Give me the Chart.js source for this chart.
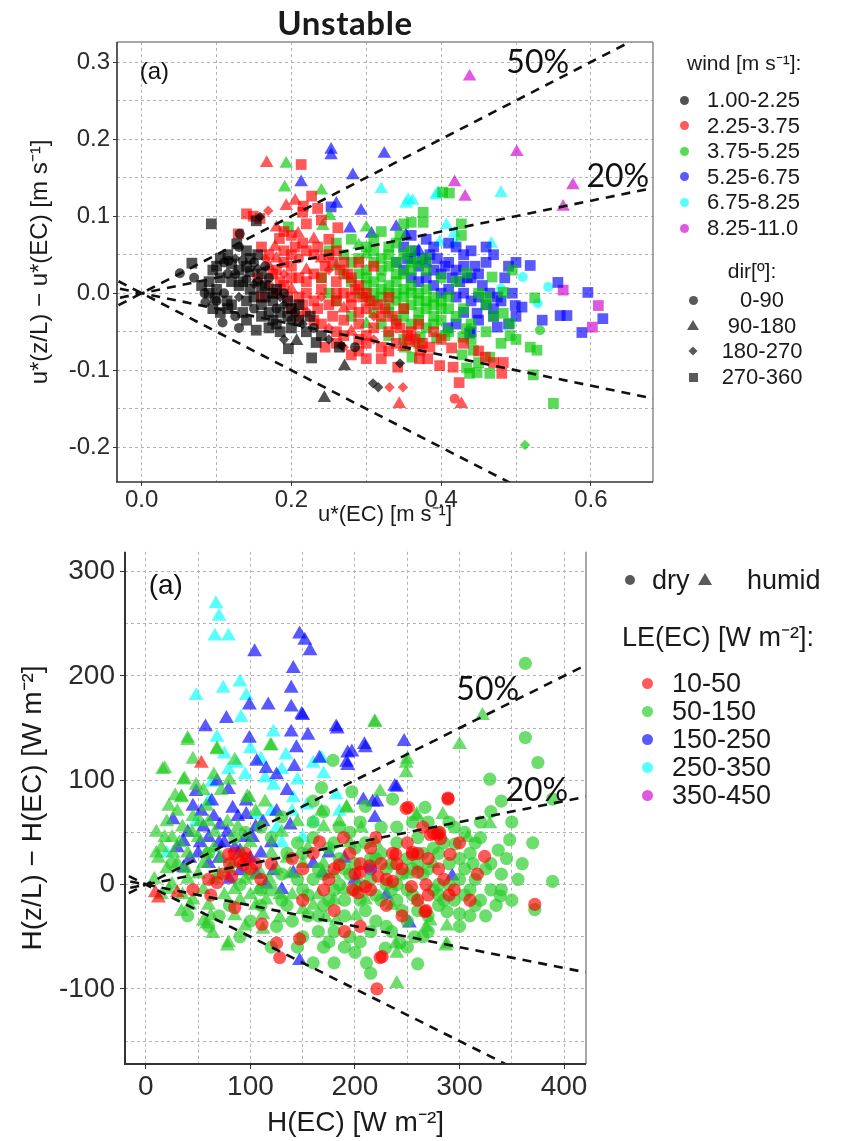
<!DOCTYPE html>
<html><head><meta charset="utf-8">
<script src="https://cdn.jsdelivr.net/npm/chart.js@4.4.1/dist/chart.umd.min.js"></script>
<style>
body{margin:0;width:845px;height:1141px;position:relative;background:#fff;overflow:hidden;font-family:"Liberation Sans",Arial,sans-serif;color:#1a1a1a}
canvas{position:absolute;left:0}
.t{position:absolute;white-space:nowrap;line-height:1}
.m{position:absolute}
</style></head><body>
<canvas id="c1" width="845" height="530" style="top:0"></canvas>
<canvas id="c2" width="845" height="611" style="top:530px"></canvas>
<div id="html"></div>
<script>
// ---------- TOP PANEL DATA : [u*(EC), u*(z/L)-u*(EC), dirClass] ----------
const windBins = ['1.00-2.25','2.25-3.75','3.75-5.25','5.25-6.75','6.75-8.25','8.25-11.0'];
const dirBins = ['0-90','90-180','180-270','270-360'];
const w1 = [[0.093,0.090,3],[0.067,0.039,3],[0.051,0.026,0],[0.084,0.000,0],[0.098,-0.006,3],[0.114,-0.010,3],[0.108,-0.038,0],[0.153,-0.048,3],[0.196,-0.072,3],[0.233,-0.064,3],[0.227,-0.084,3],[0.264,-0.070,3],[0.309,-0.117,2],[0.316,-0.122,2],[0.271,-0.095,1],[0.244,-0.136,1],[0.207,-0.062,1],[0.345,-0.091,2],[0.267,-0.068,2],[0.285,-0.070,0],[0.153,0.094,3],[0.158,0.099,2],[0.131,0.077,0],[0.127,0.064,3],[0.116,0.042,0],
[0.100,0.035,3],[0.110,0.040,0],[0.120,0.038,3],[0.125,0.045,2],[0.130,0.030,3],[0.135,0.042,0],[0.140,0.035,3],[0.145,0.028,3],[0.150,0.040,0],[0.155,0.032,2],[0.160,0.025,3],[0.105,0.020,3],[0.115,0.025,0],[0.120,0.015,3],[0.130,0.010,3],[0.140,0.018,0],[0.145,0.005,3],[0.150,0.012,2],[0.160,0.008,3],[0.170,0.020,0],[0.165,-0.005,3],[0.175,-0.010,3],[0.180,-0.020,0],[0.185,-0.025,3],[0.190,-0.015,2],[0.195,-0.030,3],[0.200,-0.020,3],[0.205,-0.025,0],[0.170,-0.025,3],[0.160,-0.030,3],[0.150,-0.020,0],[0.140,-0.010,3],[0.130,-0.005,2],[0.120,-0.015,3],[0.110,0.000,0],[0.100,0.005,3],[0.090,0.015,3],[0.085,-0.012,0],[0.095,-0.020,3],[0.105,-0.025,3],[0.125,-0.030,0],[0.135,-0.025,3],[0.180,0.005,3],[0.190,0.000,0],[0.210,-0.035,3],[0.215,-0.040,2],[0.175,-0.035,3],[0.165,0.035,0],[0.155,0.050,3],[0.140,0.055,3],[0.130,0.060,0],[0.200,-0.045,3],[0.185,-0.050,3],[0.190,-0.060,2],[0.220,-0.050,3],
[0.105,0.045,3],[0.115,0.050,3],[0.125,0.025,0],[0.135,0.015,3],[0.145,0.045,3],[0.155,0.015,0],[0.165,0.010,3],[0.175,0.000,3],[0.185,-0.005,2],[0.195,-0.010,3],[0.200,-0.035,0],[0.180,-0.040,3],[0.170,-0.045,3],[0.160,-0.015,3],[0.150,-0.005,3],[0.140,-0.035,3],[0.130,-0.045,0],[0.115,-0.020,3],[0.100,-0.010,0],[0.090,0.000,3],[0.080,0.010,3],[0.070,0.020,0],[0.095,0.030,3],[0.210,-0.015,3],[0.225,-0.030,3],[0.230,-0.045,0],[0.240,-0.055,3],[0.250,-0.060,2]];
const w2 = [[0.167,0.169,1],[0.213,0.167,3],[0.227,0.126,3],[0.216,0.113,3],[0.193,0.113,1],[0.262,0.085,3],[0.140,0.103,3],[0.149,0.100,3],[0.169,0.107,2],[0.158,0.097,3],[0.178,0.060,1],[0.209,0.077,1],[0.184,0.071,3],[0.129,0.077,3],
[0.331,-0.122,2],[0.349,-0.122,2],[0.344,-0.144,1],[0.342,-0.096,3],[0.371,-0.085,3],[0.398,-0.094,3],[0.416,-0.096,3],[0.424,-0.116,3],[0.418,-0.137,0],[0.427,-0.144,1],[0.459,-0.083,3],[0.481,-0.104,3],[0.483,-0.090,3],[0.414,-0.071,3],[0.382,-0.085,3],[0.372,-0.074,3],[0.358,-0.063,3],
[0.16,0.06,3],[0.17,0.05,3],[0.18,0.045,1],[0.19,0.055,3],[0.2,0.05,3],[0.21,0.045,0],[0.22,0.055,3],[0.23,0.05,3],[0.24,0.045,1],[0.25,0.05,3],[0.26,0.055,3],[0.27,0.04,3],[0.18,0.03,3],[0.19,0.025,2],[0.2,0.035,3],[0.21,0.02,3],[0.22,0.03,1],[0.23,0.025,3],[0.24,0.02,3],[0.25,0.03,2],[0.26,0.015,3],[0.28,0.02,3],[0.29,0.01,3],[0.17,0.01,0],[0.18,0.0,3],[0.19,0.01,3],[0.2,0.005,1],[0.21,-0.005,3],[0.22,0.0,3],[0.23,-0.01,3],[0.24,-0.005,2],[0.25,-0.015,3],[0.26,-0.01,3],[0.27,-0.02,1],[0.28,-0.015,3],[0.29,-0.025,3],[0.3,-0.02,3],[0.31,-0.03,2],[0.2,-0.02,3],[0.21,-0.03,3],[0.22,-0.025,0],[0.23,-0.035,3],[0.24,-0.04,3],[0.25,-0.045,2],[0.26,-0.05,3],[0.27,-0.055,3],[0.28,-0.05,1],[0.29,-0.06,3],[0.3,-0.065,3],[0.31,-0.06,2],[0.32,-0.07,3],[0.33,-0.075,3],[0.34,-0.065,3],[0.35,-0.07,1],[0.28,-0.08,3],[0.3,-0.085,3],[0.27,-0.07,2],[0.33,-0.05,3],[0.34,-0.04,3],[0.36,-0.05,3],[0.32,-0.03,3],[0.3,0.0,3],[0.27,0.0,3],[0.17,0.035,1],[0.155,0.02,3],[0.16,-0.005,3],[0.165,0.045,2],[0.18,0.085,1],[0.19,0.08,3],[0.2,0.075,3],[0.22,0.09,3],[0.24,0.095,3],[0.25,0.07,3],[0.23,0.07,1],[0.29,0.04,3],[0.31,0.035,3],[0.33,-0.005,3],[0.35,-0.02,3],[0.37,-0.04,3],[0.39,-0.05,3],[0.4,-0.06,3],[0.43,-0.065,3],[0.45,-0.075,3],[0.47,-0.09,3],
[0.19,0.04,3],[0.205,0.06,3],[0.215,0.065,3],[0.235,0.06,3],[0.245,0.035,3],[0.255,0.04,3],[0.265,0.03,3],[0.275,0.025,3],[0.285,0.005,3],[0.295,-0.005,3],[0.305,-0.01,3],[0.315,-0.015,3],[0.325,-0.02,3],[0.335,-0.03,3],[0.345,-0.045,3],[0.355,-0.055,3],[0.365,-0.06,3],[0.375,-0.065,3],[0.385,-0.07,3],[0.31,-0.045,3],[0.29,-0.04,3],[0.27,-0.035,3],[0.255,-0.03,3],[0.235,-0.02,3],[0.215,-0.015,3],[0.195,-0.005,3],[0.185,0.015,3],[0.175,0.025,3],[0.2,0.02,3],[0.22,0.015,3],[0.24,0.005,3],[0.26,0.0,3],[0.28,-0.005,3],[0.3,-0.055,3],[0.32,-0.085,3],[0.29,-0.075,3],[0.26,-0.065,3],[0.245,-0.07,3],[0.215,0.105,3],[0.235,0.11,3],[0.205,0.12,1]];
const w3 = [[0.193,0.168,1],[0.191,0.137,1],[0.240,0.133,1],[0.242,0.087,1],[0.251,0.100,1],[0.196,0.086,3],[0.376,0.105,3],[0.376,0.092,3],[0.360,0.092,3],[0.411,0.130,3],[0.402,0.131,3],[0.427,0.090,3],[0.427,0.075,3],[0.434,0.026,3],[0.468,0.021,3],[0.495,0.030,3],[0.525,-0.006,3],[0.532,-0.048,0],[0.519,-0.070,3],[0.528,-0.074,3],[0.523,-0.106,3],[0.550,-0.143,3],[0.512,-0.197,2],[0.483,-0.026,3],[0.492,-0.039,3],[0.492,-0.055,3],[0.465,-0.083,3],[0.438,-0.104,3],[0.443,-0.074,3],[0.428,-0.080,3],[0.434,-0.097,3],[0.448,-0.103,3],[0.465,-0.104,3],[0.405,-0.055,3],[0.429,-0.057,3],[0.394,-0.058,3],[0.361,-0.083,3],[0.352,-0.072,1],[0.372,-0.057,3],[0.434,-0.046,3],[0.483,0.001,3],[0.461,-0.005,3],
[0.27,0.05,3],[0.28,0.04,3],[0.29,0.045,3],[0.3,0.05,1],[0.31,0.04,3],[0.32,0.045,3],[0.33,0.035,3],[0.34,0.04,3],[0.35,0.05,3],[0.36,0.03,3],[0.3,0.02,3],[0.31,0.015,3],[0.32,0.02,0],[0.33,0.01,3],[0.34,0.015,3],[0.35,0.005,3],[0.36,0.01,3],[0.37,0.0,3],[0.38,0.005,3],[0.39,-0.005,3],[0.4,-0.01,3],[0.41,-0.005,3],[0.3,-0.005,3],[0.31,-0.01,3],[0.32,-0.005,3],[0.33,-0.015,3],[0.34,-0.01,0],[0.35,-0.02,3],[0.36,-0.015,3],[0.37,-0.025,3],[0.38,-0.02,3],[0.39,-0.03,3],[0.4,-0.035,3],[0.42,-0.03,3],[0.43,-0.02,3],[0.44,-0.04,3],[0.29,0.0,3],[0.28,0.015,3],[0.27,0.025,3],[0.26,0.035,1],[0.25,0.055,3],[0.26,0.065,3],[0.28,0.07,3],[0.29,0.062,1],[0.31,0.07,3],[0.33,0.06,3],[0.34,0.065,3],[0.36,0.055,3],[0.37,0.04,3],[0.38,0.03,3],[0.4,0.02,3],[0.42,0.015,3],[0.45,0.0,3],[0.46,-0.015,3],[0.47,-0.03,3],[0.36,-0.04,3],[0.34,-0.035,3],[0.32,-0.04,3],[0.38,-0.045,3],[0.41,-0.05,3],[0.3,0.03,3],[0.35,0.025,3],[0.24,0.02,3],[0.25,0.0,3],[0.26,-0.01,3],[0.28,-0.03,3],[0.3,-0.04,1],[0.33,-0.055,3],[0.35,-0.06,3],[0.37,-0.065,3],
[0.3,0.01,3],[0.31,0.0,3],[0.32,0.005,3],[0.33,0.0,3],[0.34,0.0,3],[0.35,-0.005,3],[0.36,0.0,3],[0.37,-0.01,3],[0.38,-0.01,3],[0.39,-0.015,3],[0.4,-0.02,3],[0.41,-0.02,3],[0.32,0.03,3],[0.34,0.025,3],[0.36,0.04,3],[0.38,0.045,3],[0.33,0.05,3],[0.31,0.055,3],[0.29,0.025,3],[0.3,0.06,3],[0.35,-0.03,3],[0.37,-0.035,3],[0.39,-0.04,3],[0.33,-0.025,3],[0.31,-0.025,3],[0.345,0.075,3],[0.32,0.08,3],[0.3,0.085,1],[0.35,0.09,3],[0.44,-0.06,3],[0.46,-0.05,3],[0.48,-0.065,3],[0.5,-0.06,3],[0.45,-0.09,3]];
const w4 = [[0.253,0.186,1],[0.253,0.179,1],[0.324,0.181,1],[0.282,0.153,1],[0.213,0.144,1],[0.260,0.116,1],[0.253,0.112,3],[0.293,0.107,1],[0.278,0.084,1],[0.307,0.077,1],[0.340,0.086,1],[0.353,0.075,1],[0.448,-0.026,3],[0.475,-0.044,3],[0.438,-0.052,3],[0.409,-0.045,3],[0.499,-0.016,3],[0.508,-0.018,3],[0.519,0.036,3],[0.535,-0.035,3],[0.559,-0.029,3],[0.568,-0.029,3],[0.588,-0.051,3],[0.596,0.001,3],[0.616,-0.033,3],[0.556,0.014,3],
[0.34,0.04,3],[0.35,0.03,3],[0.36,0.045,3],[0.37,0.035,3],[0.38,0.04,3],[0.39,0.03,3],[0.36,0.02,3],[0.37,0.015,3],[0.38,0.02,3],[0.39,0.01,3],[0.4,0.025,3],[0.41,0.04,3],[0.42,0.03,3],[0.43,0.035,3],[0.44,0.02,3],[0.45,0.025,3],[0.4,0.0,3],[0.41,0.005,3],[0.42,-0.005,3],[0.43,0.0,3],[0.44,-0.01,3],[0.45,-0.005,3],[0.46,-0.015,3],[0.47,-0.02,3],[0.48,-0.01,3],[0.35,0.06,3],[0.37,0.055,1],[0.39,0.06,3],[0.41,0.065,3],[0.43,0.05,3],[0.44,0.055,3],[0.46,0.04,3],[0.47,0.05,3],[0.49,0.035,3],[0.5,0.04,3],[0.49,-0.04,3],[0.5,-0.03,3],[0.42,-0.04,3],[0.44,-0.05,3],
[0.355,0.045,3],[0.365,0.055,3],[0.375,0.045,3],[0.385,0.05,3],[0.395,0.045,3],[0.405,0.035,3],[0.415,0.02,3],[0.425,0.015,3],[0.435,0.02,3],[0.445,0.035,3],[0.455,0.01,3],[0.465,0.0,3],[0.475,-0.005,3],[0.485,0.02,3],[0.495,0.0,3],[0.46,0.06,3],[0.42,0.06,3],[0.38,0.07,3],[0.36,0.075,3],[0.43,-0.025,3],[0.45,-0.035,3],[0.47,-0.03,3]];
const w5 = [[0.320,0.135,1],[0.353,0.116,1],[0.362,0.120,1],[0.393,0.127,1],[0.480,0.130,1],[0.418,0.065,1],[0.467,0.064,1],[0.407,0.088,1],[0.398,0.066,1],[0.480,0.006,0],[0.509,0.021,0],[0.543,0.008,0],[0.529,-0.013,0],[0.418,0.078,1],[0.396,0.130,1],[0.356,0.121,1]];
const w6 = [[0.438,0.281,1],[0.501,0.183,1],[0.418,0.144,1],[0.432,0.125,1],[0.576,0.140,1],[0.563,0.112,1],[0.563,0.004,3],[0.610,-0.016,3],[0.602,-0.044,3]];

// ---------- BOTTOM PANEL DATA : [H(EC), H(z/L)-H(EC), humid(1)/dry(0)] ----------
const leBins = ['10-50','50-150','150-250','250-350','350-450'];
const humBins = ['dry','humid'];
const le1 = [[53,116,1],[12,-13,1],[9,-8,1],[96,25,0],[90,22,0],[93,19,0],[85,-22,0],[111,-38,0],[125,-56,0],[128,-70,0],[147,-52,0],[224,-70,0],[268,-25,0],[289,83,0],[249,73,0],[198,-5,0],[203,-8,0],[189,45,0],[185,19,0],[166,41,0],[275,49,0],[279,48,0],[282,44,0],[255,29,0],[239,29,0],[214,18,0],[222,8,0],[236,3,0],[254,-2,0],[268,0,0],[74,10,0],[82,8,0],[79,29,0],[100,15,0],[68,2,0],[60,5,0],[289,82,0],[251,74,0],[317,10,0],[324,27,0],[372,-19,0],[226,-69,0],[221,-100,0],[267,-26,0],[291,29,0],[236,30,0],[255,31,0],[281,50,0],[272,48,0],[200,10,0],[205,12,0],[210,-2,0],[215,35,0],[225,20,0],[245,15,0],[260,12,0],[270,-10,0],[285,5,0],[295,-5,0],[230,-20,0],[245,-30,0],[175,5,0],[160,30,0],[150,15,0],[140,25,0],[120,20,0],[110,5,0],[85,30,0],[62,-10,0],[45,-5,0],[30,-8,1],[150,-15,0],[180,-25,0],[190,-45,0],[205,-40,0],[265,55,0],[300,40,0],
[205,20,0],[215,-5,0],[230,5,0],[240,20,0],[250,40,0],[260,30,0],[270,25,0],[280,15,0],[290,-10,0],[310,-15,0],[195,30,0],[180,15,0],[170,-5,0],[260,-15,0],[220,45,0],[95,30,0],[105,20,0],[80,20,0]];
const le2 = [[16,110,1],[40,138,1],[37,101,1],[34,84,1],[68,129,1],[85,119,1],[97,84,1],[119,133,1],[40,140,1],[68,130,1],[120,133,1],[219,156,1],[300,134,1],[249,116,1],[249,107,1],[18,111,1],[36,100,1],[34,83,1],[99,83,1],[114,79,1],[224,89,1],[192,73,1],[259,65,1],[308,45,1],[168,70,1],[206,54,1],[64,-47,1],[78,-59,1],[55,-35,1],[34,-26,1],[79,-56,1],[58,-38,1],[112,-43,1],[128,-32,1],[182,-35,1],[112,-29,1],[201,-30,1],[239,-57,1],[268,-41,1],[287,-59,1],[150,-24,1],[172,-32,1],[240,-95,1],[288,-57,1],[240,-66,1],[272,-35,1],[288,-40,1],[329,58,1],[219,155,1],[322,162,1],[250,120,1],[192,74,1],[259,67,1],[284,67,1],
[10,50,1],[15,35,1],[20,60,1],[25,45,1],[30,70,1],[35,55,1],[40,30,1],[45,65,1],[50,45,1],[55,20,1],[60,60,1],[65,35,1],[70,10,1],[20,15,1],[25,0,1],[30,20,1],[35,-10,1],[40,5,1],[45,-15,1],[50,10,1],[55,-5,1],[60,-20,1],[65,5,1],[75,-10,1],[80,15,1],[85,-5,1],[90,-15,1],[95,5,1],[100,-10,1],[105,-20,1],[110,10,1],[115,-15,1],[120,30,1],[125,15,1],[130,50,1],[135,25,1],[140,-10,1],[145,60,1],[155,35,1],[165,-10,1],[170,55,1],[180,10,1],[185,60,1],[195,40,1],[210,-15,1],[220,40,1],[235,-20,1],[250,10,1],[260,-15,1],[275,20,1],[12,25,1],[8,5,1],[15,-10,1],[28,85,1],[22,75,1],[48,95,1],[58,75,1],[72,90,1],[88,55,1],[105,70,1],
[10,30,1],[18,45,1],[26,30,1],[32,40,1],[38,15,1],[44,50,1],[52,60,1],[58,30,1],[66,50,1],[72,25,1],[78,60,1],[84,20,1],[92,30,1],[100,40,1],[108,-5,1],[118,5,1],[128,-10,1],[138,10,1],[150,20,1],[160,-20,1],[170,20,1],[180,-15,1],[190,-5,1],[62,-30,1],[42,-20,1],[22,-5,1],[85,-30,1],[95,-40,1],[55,90,1],[65,105,1],[45,120,1],[80,100,1],
[363,212,0],[363,141,0],[375,117,0],[329,101,0],[389,82,0],[236,82,0],[267,74,0],[179,119,0],[168,93,0],[197,89,0],[339,-11,0],[356,5,0],[389,3,0],[372,-24,0],[348,43,0],[337,33,0],[313,20,0],[296,39,0],[211,-75,0],[260,-76,0],[229,-61,0],[243,-56,0],[257,-50,0],[300,-28,0],[288,-26,0],
[120,-5,0],[130,10,0],[135,-20,0],[145,5,0],[150,30,0],[155,-10,0],[160,45,0],[165,15,0],[170,-20,0],[175,35,0],[180,-5,0],[185,25,0],[190,-30,0],[195,50,0],[200,20,0],[205,-15,0],[210,40,0],[215,5,0],[220,-35,0],[225,55,0],[230,15,0],[235,-5,0],[240,40,0],[245,-25,0],[250,25,0],[255,-10,0],[260,45,0],[265,10,0],[270,-30,0],[275,35,0],[280,0,0],[285,-15,0],[290,20,0],[295,55,0],[300,5,0],[305,-10,0],[310,30,0],[315,-20,0],[320,45,0],[325,15,0],[330,-5,0],[340,10,0],[345,25,0],[350,-15,0],[205,60,0],[215,-45,0],[230,-40,0],[195,-50,0],[180,-45,0],[165,-45,0],[155,-30,0],[140,-35,0],[125,-40,0],[110,-20,0],[100,-35,0],[90,-50,0],[120,-60,0],[150,-50,0],[170,-60,0],[200,-65,0],[215,-85,0],[185,55,0],[170,70,0],[160,80,0],[210,75,0],[225,-15,0],[240,0,0],[255,60,0],[270,60,0],[280,30,0],[300,-40,0],[310,-30,0],[195,10,0],[205,0,0],[220,25,0],[235,20,0],[250,-35,0],[265,-50,0],[160,-75,0],[180,-75,0],[145,-60,0],[130,-15,0],[110,-5,0],[100,10,0],[90,0,0],[80,-20,0],[70,-30,0],[60,-40,0],[85,45,0],[95,50,0],[110,55,0],[130,65,0],[145,40,0],[60,30,0],[40,-30,0],[25,20,0],[370,40,0],[360,20,0],[350,60,0],[340,80,0],[330,70,0],[325,-30,0],
[150,-5,0],[160,5,0],[170,10,0],[175,-15,0],[185,0,0],[190,15,0],[200,-5,0],[210,-25,0],[215,25,0],[220,-10,0],[225,30,0],[230,0,0],[240,-15,0],[245,10,0],[250,-5,0],[255,15,0],[260,-25,0],[265,30,0],[270,15,0],[275,-5,0],[280,-20,0],[285,40,0],[290,0,0],[295,-15,0],[300,25,0],[305,15,0],[310,-5,0],[315,5,0],[320,-15,0],[330,20,0],[335,-20,0],[340,-5,0],[190,-15,0],[180,40,0],[165,-30,0],[175,-55,0],[190,-60,0],[205,-55,0],[235,-45,0],[250,-60,0],[270,-45,0],[280,-10,0],[135,30,0],[120,45,0],[160,60,0],[200,35,0],[240,55,0],[260,20,0],[280,50,0],[305,50,0],[320,60,0],[315,40,0],[290,60,0]];
const le3 = [[147,240,1],[152,234,1],[157,224,1],[104,223,1],[141,207,1],[139,188,1],[99,172,1],[117,172,1],[139,170,1],[150,162,1],[77,159,1],[57,151,1],[139,146,1],[155,143,1],[144,131,1],[99,140,1],[182,151,1],[209,134,1],[247,137,1],[193,126,1],[166,121,1],[106,118,1],[142,113,1],[115,111,1],[125,105,1],[48,89,1],[68,99,1],[79,91,1],[193,114,1],[208,81,1],[217,79,1],[238,94,1],[219,64,1],[26,62,1],[53,70,1],[63,80,1],[83,73,1],[96,67,1],[138,57,1],[96,80,1],[71,57,1],[36,41,1],[90,13,1],[122,13,1],[141,11,1],[169,11,1],[252,-37,1],[147,-73,1],[90,32,1],[106,10,1],[36,16,1],[293,8,1],[183,149,1],[149,163,1],[197,127,1],[210,131,1],[192,117,1],[221,79,1],[240,93,1],[45,75,1],[55,55,1],[40,50,1],[60,45,1],[75,40,1],[85,35,1],[100,25,1],[110,30,1],[95,45,1],[70,25,1],[50,30,1],[80,5,1],[115,0,1],[130,-5,1],[160,20,1],[175,30,1],[190,25,1],[200,5,1],[215,15,0],[230,-10,1],[105,55,1],[120,40,1],
[30,35,1],[42,25,1],[52,40,1],[65,65,1],[78,50,1],[88,65,1],[102,45,1],[112,60,1],[125,70,1],[135,90,1],[60,20,1],[70,40,1]];
const le4 = [[67,269,1],[70,257,1],[66,238,1],[79,238,1],[48,181,1],[74,188,1],[90,194,1],[96,181,1],[91,160,1],[68,141,1],[122,146,1],[87,116,1],[79,110,1],[63,98,1],[114,102,1],[122,95,1],[134,124,1],[160,116,1],[168,121,1],[141,83,1],[154,76,1],[125,54,1],[120,70,1],[106,67,1],[185,70,1],[170,106,1],[182,86,1],[100,130,1],[110,120,1],[95,105,1],[130,110,1],[145,100,1],[75,125,1],[140,70,1],[160,60,1],[150,45,1],[130,40,1],[60,80,1],[48,60,1],[20,30,1]];
const le5 = [];

// reference lines (relative deviation)
const refSlopes = [0.5, 0.2, -0.2, -0.5];
const topX = [-0.033, 0.683], topY = [-0.245, 0.326];
const botX = [-20, 421], botY = [-172, 319];

// ---------- styling ----------
const windColors = ['rgba(0,0,0,0.68)','rgba(255,0,0,0.65)','rgba(0,200,0,0.65)','rgba(0,0,255,0.65)','rgba(0,255,255,0.65)','rgba(205,0,205,0.65)'];
const leColors = ['rgba(255,0,0,0.65)','rgba(40,205,40,0.68)','rgba(0,0,255,0.65)','rgba(0,255,255,0.65)','rgba(205,0,205,0.65)'];
const dirStyles = ['circle','triangle','rectRot','rect'];
const dirRadius = [5,7.8,5.2,7.6];
const humStyles = ['circle','triangle'];
const humRadius = [6.6,8.6];
const FONT = '"Liberation Sans", Arial, sans-serif';

function refLines(xr){
  return refSlopes.map(s=>({type:'line',data:[{x:xr[0]-1e-6,y:s*xr[0]},{x:xr[1],y:s*xr[1]}],
    borderColor:'#111',borderWidth:2.6,borderDash:[9,7],pointRadius:0,fill:false,clip:0,showLine:true}));
}
function pts(arr,color,styles,radii){
  return {type:'scatter',data:arr.map(p=>({x:p[0],y:p[1],k:p[2]})),
    backgroundColor:color,borderWidth:0,
    pointStyle:c=>c.raw?styles[c.raw.k]:'circle',
    pointRadius:c=>c.raw?radii[c.raw.k]:4,pointHoverRadius:c=>c.raw?radii[c.raw.k]:4};
}
const framePlugin = {
  id:'frame',
  afterDatasetsDraw(chart,args,opts){
    const {ctx,chartArea:a,scales}=chart;
    ctx.save();
    (opts.sides||[]).forEach(s=>{
      ctx.beginPath();ctx.strokeStyle=s.c;ctx.lineWidth=s.w;
      if(s.side==='left'){ctx.moveTo(a.left,a.top);ctx.lineTo(a.left,a.bottom);}
      if(s.side==='right'){ctx.moveTo(a.right,a.top);ctx.lineTo(a.right,a.bottom);}
      if(s.side==='top'){ctx.moveTo(a.left,a.top);ctx.lineTo(a.right,a.top);}
      if(s.side==='bottom'){ctx.moveTo(a.left-1,a.bottom);ctx.lineTo(a.right,a.bottom);}
      ctx.stroke();
    });
    (opts.labels||[]).forEach(l=>{
      ctx.font=l.f;ctx.fillStyle='#111';ctx.textAlign='center';ctx.textBaseline='middle';
      ctx.fillText(l.t,scales.x.getPixelForValue(l.x),scales.y.getPixelForValue(l.y));
    });
    ctx.restore();
  }
};
function axis(opts){
  const major=opts.major, fmt=opts.fmt;
  return {type:'linear',min:opts.min,max:opts.max,position:opts.pos,
    afterFit:s=>{ if(opts.pos==='left') s.width=opts.size; else s.height=opts.size; },
    ticks:{stepSize:opts.step,includeBounds:false,autoSkip:false,maxRotation:0,padding:opts.pad,color:'#2b2b2b',
      font:{family:FONT,size:opts.fs},
      callback:v=>{const r=Math.round(v/opts.step); return (Math.abs(r)%major===0)?fmt(Math.abs(v)<1e-9?0:v):'';}},
    grid:{color:'#b3b3b3',lineWidth:1,tickLength:opts.tl,
      tickColor:c=>{const r=Math.round(c.tick.value/opts.step);return (Math.abs(r)%major===0)?'#333':'rgba(0,0,0,0)';}},
    border:{display:false,dash:[3,3]},
    title:{display:true,text:opts.title,color:'#1a1a1a',font:{family:FONT,size:opts.tfs},padding:opts.tpad}
  };
}

// ---------- TOP CHART ----------
new Chart(document.getElementById('c1'),{
  data:{datasets:[...refLines([-0.05,0.72]),
    pts(w1,windColors[0],dirStyles,dirRadius),pts(w2,windColors[1],dirStyles,dirRadius),pts(w3,windColors[2],dirStyles,dirRadius),
    pts(w4,windColors[3],dirStyles,dirRadius),pts(w5,windColors[4],dirStyles,dirRadius),pts(w6,windColors[5],dirStyles,dirRadius)]},
  options:{responsive:false,animation:false,events:[],
    layout:{padding:{top:42,right:192,left:0,bottom:0}},
    plugins:{legend:{display:false},tooltip:{enabled:false},
      frame:{sides:[{side:'top',c:'#8a8a8a',w:1.5},{side:'right',c:'#8a8a8a',w:1.5},{side:'left',c:'#333',w:1.6},{side:'bottom',c:'#333',w:1.6}],
        labels:[{t:'(a)',x:0.017,y:0.287,f:'24px '+FONT},{t:'50%',x:0.529,y:0.299,f:'32px Lato, sans-serif'},{t:'20%',x:0.636,y:0.151,f:'32px Lato, sans-serif'}]}},
    scales:{
      x:axis({min:topX[0],max:topX[1],pos:'bottom',size:48,step:0.1,major:2,pad:0,tl:4,fs:24,fmt:v=>v.toFixed(1),title:'u*(EC) [m s⁻¹]',tfs:22,tpad:{top:0,bottom:2}}),
      y:axis({min:topY[0],max:topY[1],pos:'left',size:117,step:0.05,major:2,pad:3,tl:4,fs:24,fmt:v=>v.toFixed(1),title:'u*(z/L) − u*(EC) [m s⁻¹]',tfs:24,tpad:{top:26,bottom:0}})
    }},
  plugins:[framePlugin]
});

// ---------- BOTTOM CHART ----------
new Chart(document.getElementById('c2'),{
  data:{datasets:[...refLines([-30,430]),
    pts(le1,leColors[0],humStyles,humRadius),pts(le2,leColors[1],humStyles,humRadius),pts(le3,leColors[2],humStyles,humRadius),
    pts(le4,leColors[3],humStyles,humRadius),pts(le5,leColors[4],humStyles,humRadius)]},
  options:{responsive:false,animation:false,events:[],
    layout:{padding:{top:18,right:259,left:0,bottom:0}},
    plugins:{legend:{display:false},tooltip:{enabled:false},
      frame:{sides:[{side:'right',c:'#8a8a8a',w:1.5},{side:'left',c:'#333',w:2},{side:'bottom',c:'#333',w:2}],
        labels:[{t:'(a)',x:19,y:286,f:'28px '+FONT},{t:'50%',x:327,y:187,f:'32px Lato, sans-serif'},{t:'20%',x:374,y:90,f:'32px Lato, sans-serif'}]}},
    scales:{
      x:axis({min:botX[0],max:botX[1],pos:'bottom',size:77,step:50,major:2,pad:1,tl:5,fs:28,fmt:v=>String(v),title:'H(EC) [W m⁻²]',tfs:28,tpad:{top:0,bottom:1}}),
      y:axis({min:botY[0],max:botY[1],pos:'left',size:125,step:50,major:2,pad:5,tl:5,fs:28,fmt:v=>String(v),title:'H(z/L) − H(EC) [W m⁻²]',tfs:28,tpad:{top:16,bottom:0}})
    }},
  plugins:[framePlugin]
});

// ---------- HTML title and legends ----------
const host=document.getElementById('html');
function txt(s,x,y,size,opt){opt=opt||{};const d=document.createElement('div');d.className='t';d.textContent=s;
  d.style.fontSize=size+'px';d.style.top=(y-size*0.5)+'px';
  if(opt.center){d.style.left=(x-300)+'px';d.style.width='600px';d.style.textAlign='center';}else d.style.left=x+'px';
  if(opt.bold)d.style.fontWeight='bold'; if(opt.fam)d.style.fontFamily=opt.fam; if(opt.ls)d.style.letterSpacing=opt.ls; host.appendChild(d);}
function mark(shape,x,y,s,color){const d=document.createElement('div');d.className='m';
  if(shape==='triangle'){d.style.width='0';d.style.height='0';d.style.borderLeft=(s*0.6)+'px solid transparent';d.style.borderRight=(s*0.6)+'px solid transparent';d.style.borderBottom=s+'px solid '+color;d.style.left=(x-s*0.6)+'px';d.style.top=(y-s*0.55)+'px';}
  else{d.style.width=s+'px';d.style.height=s+'px';d.style.background=color;d.style.left=(x-s/2)+'px';d.style.top=(y-s/2)+'px';
    if(shape==='circle')d.style.borderRadius='50%';
    if(shape==='rectRot'){d.style.transform='rotate(45deg) scale(0.8)';}}
  host.appendChild(d);}
txt('Unstable',345,22,33,{center:true,bold:true,fam:'Lato, sans-serif',ls:'0.6px'});
txt('wind [m s⁻¹]:',687,62,21);
windBins.forEach((b,i)=>{const y=100+25.6*i;mark('circle',684,y,9,windColors[i]);txt(b,707,y,22);});
txt('dir[º]:',752,270,21,{center:true});
dirBins.forEach((b,i)=>{const y=300+25.7*i;mark(dirStyles[i],693,y,i===1?10:(i===2?8:9),'rgba(0,0,0,0.65)');txt(b,762,y,22,{center:true});});
mark('circle',630,580,10,'rgba(0,0,0,0.65)');txt(humBins[0],652,580,27);
mark('triangle',705,580,12,'rgba(0,0,0,0.65)');txt(humBins[1],747,580,27);
txt('LE(EC) [W m⁻²]:',622,637,27);
leBins.forEach((b,i)=>{const y=683+28*i;mark('circle',647,y,11,leColors[i]);txt(b,672,y,27);});
</script>
</body></html>
